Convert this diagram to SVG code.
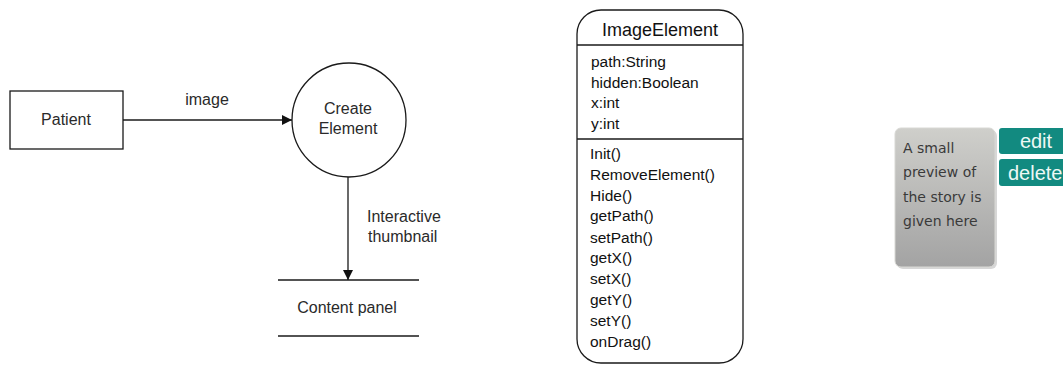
<svg xmlns="http://www.w3.org/2000/svg" width="1063" height="365" viewBox="0 0 1063 365">
<style>
.ln{stroke:#1a1a1a;stroke-width:1.3;fill:none}
.t{font-family:"Liberation Sans",Arial,sans-serif;font-size:16px;fill:#2a2a2a}
.u{font-family:"Liberation Sans",Arial,sans-serif;font-size:15.5px;fill:#111}
.h{font-family:"Liberation Sans",Arial,sans-serif;font-size:18px;fill:#111}
.c{font-family:"DejaVu Sans",sans-serif;font-size:14px;fill:#3a3a3a}
.b{font-family:"Liberation Sans",Arial,sans-serif;font-size:20px;fill:#eef8f5}
</style>
<defs>
<marker id="ah" viewBox="0 0 10 10" refX="10" refY="5" markerWidth="10" markerHeight="10" markerUnits="userSpaceOnUse" orient="auto">
<path d="M0,0 L10,5 L0,10 Z" fill="#111"/>
</marker>
<linearGradient id="gc" x1="0" y1="0" x2="0" y2="1">
<stop offset="0" stop-color="#cfcfcb"/>
<stop offset="1" stop-color="#a3a3a3"/>
</linearGradient>
</defs>
<rect width="1063" height="365" fill="#fff"/>
<g id="connectors">
<line class="ln" x1="123" y1="120" x2="292" y2="120" marker-end="url(#ah)"/>
<line class="ln" x1="348" y1="177" x2="348" y2="280" marker-end="url(#ah)"/>
<text class="t" x="207" y="105" text-anchor="middle">image</text>
<text class="t" x="367" y="222">Interactive</text>
<text class="t" x="368" y="242">thumbnail</text>
</g>
<g id="patient">
<rect class="ln" x="10" y="91" width="113" height="58"/>
<text class="t" x="66" y="125" text-anchor="middle">Patient</text>
</g>
<g id="create-element">
<circle class="ln" cx="349" cy="120" r="57"/>
<text class="t" x="348" y="114" text-anchor="middle">Create</text>
<text class="t" x="348" y="134" text-anchor="middle">Element</text>
</g>
<g id="content-panel">
<line class="ln" x1="278" y1="280" x2="419" y2="280"/>
<line class="ln" x1="278" y1="336" x2="419" y2="336"/>
<text class="t" x="347" y="313" text-anchor="middle">Content panel</text>
</g>
<g id="image-element">
<rect class="ln" x="577" y="10" width="166" height="353" rx="24" ry="24"/>
<line class="ln" x1="577" y1="45" x2="743" y2="45"/>
<line class="ln" x1="577" y1="139" x2="743" y2="139"/>
<text class="h" x="660" y="36" text-anchor="middle">ImageElement</text>
<text class="u" x="591" y="67">path:String</text>
<text class="u" x="591" y="88">hidden:Boolean</text>
<text class="u" x="591" y="108">x:int</text>
<text class="u" x="591" y="129">y:int</text>
<text class="u" x="590" y="159">Init()</text>
<text class="u" x="590" y="180">RemoveElement()</text>
<text class="u" x="590" y="201">Hide()</text>
<text class="u" x="590" y="221">getPath()</text>
<text class="u" x="590" y="243">setPath()</text>
<text class="u" x="590" y="263">getX()</text>
<text class="u" x="590" y="284">setX()</text>
<text class="u" x="590" y="305">getY()</text>
<text class="u" x="590" y="326">setY()</text>
<text class="u" x="590" y="347">onDrag()</text>
</g>
<g id="story-card">
<rect x="896" y="129" width="100" height="139" rx="6" fill="#9a9a9a" opacity="0.4" transform="translate(1,1)"/>
<rect x="895" y="128" width="100" height="139" rx="6" fill="url(#gc)" stroke="#d8d8d4" stroke-width="1"/>
<text class="c" x="903" y="153">A small</text>
<text class="c" x="903" y="177">preview of</text>
<text class="c" x="903" y="202">the story is</text>
<text class="c" x="903" y="226">given here</text>
</g>
<g id="edit-button">
<rect x="999" y="128" width="80" height="26" rx="3" fill="#128a80"/>
<text class="b" x="1036" y="148" text-anchor="middle">edit</text>
</g>
<g id="delete-button">
<rect x="999" y="159" width="80" height="27" rx="3" fill="#128a80"/>
<text class="b" x="1008" y="180">delete</text>
</g>
</svg>
